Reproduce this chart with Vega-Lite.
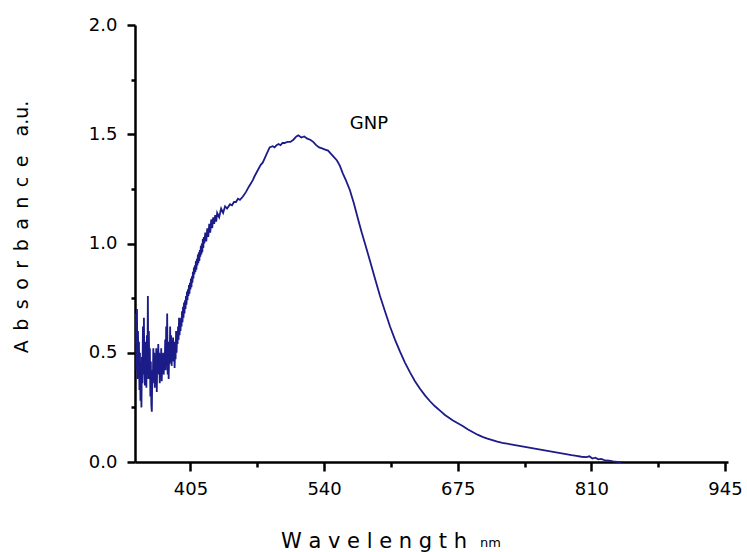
{
  "$schema": "https://vega.github.io/schema/vega-lite/v6.json",
  "width": 593,
  "height": 437,
  "autosize": "none",
  "padding": {"left": 135, "top": 25, "right": 19, "bottom": 90},
  "background": "white",
  "config": {"view": {"stroke": null}, "font": "DejaVu Sans"},
  "datasets": {
    "spectrum": [
      {"w": 350.0, "a": 0.68}, {"w": 350.5, "a": 0.42}, {"w": 351.0, "a": 0.70}, {"w": 351.5, "a": 0.38},
      {"w": 352.0, "a": 0.60}, {"w": 352.5, "a": 0.45}, {"w": 353.0, "a": 0.55}, {"w": 353.5, "a": 0.33},
      {"w": 354.0, "a": 0.50}, {"w": 354.5, "a": 0.28}, {"w": 355.0, "a": 0.40}, {"w": 355.5, "a": 0.25},
      {"w": 356.0, "a": 0.48}, {"w": 356.5, "a": 0.36}, {"w": 357.0, "a": 0.62}, {"w": 357.5, "a": 0.40},
      {"w": 358.0, "a": 0.66}, {"w": 358.5, "a": 0.42}, {"w": 359.0, "a": 0.35}, {"w": 359.5, "a": 0.55},
      {"w": 360.0, "a": 0.44}, {"w": 360.5, "a": 0.34}, {"w": 361.0, "a": 0.58}, {"w": 361.5, "a": 0.40},
      {"w": 362.0, "a": 0.76}, {"w": 362.5, "a": 0.38}, {"w": 363.0, "a": 0.60}, {"w": 363.5, "a": 0.42},
      {"w": 364.0, "a": 0.52}, {"w": 364.5, "a": 0.30}, {"w": 365.0, "a": 0.46}, {"w": 365.5, "a": 0.26},
      {"w": 366.0, "a": 0.23}, {"w": 366.5, "a": 0.42}, {"w": 367.0, "a": 0.36}, {"w": 367.5, "a": 0.52},
      {"w": 368.0, "a": 0.40}, {"w": 368.5, "a": 0.50}, {"w": 369.0, "a": 0.34}, {"w": 369.5, "a": 0.48},
      {"w": 370.0, "a": 0.38}, {"w": 370.5, "a": 0.52}, {"w": 371.0, "a": 0.32}, {"w": 371.5, "a": 0.46},
      {"w": 372.0, "a": 0.40}, {"w": 372.5, "a": 0.54}, {"w": 373.0, "a": 0.42}, {"w": 373.5, "a": 0.50},
      {"w": 374.0, "a": 0.36}, {"w": 374.5, "a": 0.48}, {"w": 375.0, "a": 0.40}, {"w": 375.5, "a": 0.52},
      {"w": 376.0, "a": 0.37}, {"w": 376.5, "a": 0.46}, {"w": 377.0, "a": 0.42}, {"w": 377.5, "a": 0.50},
      {"w": 378.0, "a": 0.40}, {"w": 378.5, "a": 0.47}, {"w": 379.0, "a": 0.44}, {"w": 379.5, "a": 0.56},
      {"w": 380.0, "a": 0.42}, {"w": 380.5, "a": 0.62}, {"w": 381.0, "a": 0.44}, {"w": 381.5, "a": 0.68},
      {"w": 382.0, "a": 0.40}, {"w": 382.5, "a": 0.55}, {"w": 383.0, "a": 0.38}, {"w": 383.5, "a": 0.50},
      {"w": 384.0, "a": 0.45}, {"w": 384.5, "a": 0.62}, {"w": 385.0, "a": 0.46}, {"w": 385.5, "a": 0.58},
      {"w": 386.0, "a": 0.44}, {"w": 386.5, "a": 0.54}, {"w": 387.0, "a": 0.48}, {"w": 387.5, "a": 0.57},
      {"w": 388.0, "a": 0.46}, {"w": 388.5, "a": 0.55}, {"w": 389.0, "a": 0.43}, {"w": 389.5, "a": 0.52},
      {"w": 390.0, "a": 0.47}, {"w": 390.5, "a": 0.60}, {"w": 391.0, "a": 0.50}, {"w": 391.5, "a": 0.58},
      {"w": 392.0, "a": 0.54}, {"w": 392.5, "a": 0.62}, {"w": 393.0, "a": 0.56}, {"w": 393.5, "a": 0.66},
      {"w": 394.0, "a": 0.58}, {"w": 394.5, "a": 0.63}, {"w": 395.0, "a": 0.60}, {"w": 395.5, "a": 0.66},
      {"w": 396.0, "a": 0.62}, {"w": 396.5, "a": 0.69}, {"w": 397.0, "a": 0.64}, {"w": 397.5, "a": 0.71},
      {"w": 398.0, "a": 0.66}, {"w": 398.5, "a": 0.73}, {"w": 399.0, "a": 0.68}, {"w": 399.5, "a": 0.74},
      {"w": 400.0, "a": 0.70}, {"w": 400.5, "a": 0.76}, {"w": 401.0, "a": 0.72}, {"w": 401.5, "a": 0.78},
      {"w": 402.0, "a": 0.74}, {"w": 402.5, "a": 0.79}, {"w": 403.0, "a": 0.76}, {"w": 403.5, "a": 0.81},
      {"w": 404.0, "a": 0.77}, {"w": 404.5, "a": 0.82}, {"w": 405.0, "a": 0.79}, {"w": 405.5, "a": 0.84},
      {"w": 406.0, "a": 0.80}, {"w": 406.5, "a": 0.85}, {"w": 407.0, "a": 0.82}, {"w": 407.5, "a": 0.87},
      {"w": 408.0, "a": 0.84}, {"w": 408.5, "a": 0.89}, {"w": 409.0, "a": 0.86}, {"w": 409.5, "a": 0.90},
      {"w": 410.0, "a": 0.87}, {"w": 410.5, "a": 0.92}, {"w": 411.0, "a": 0.88}, {"w": 411.5, "a": 0.93},
      {"w": 412.0, "a": 0.90}, {"w": 412.5, "a": 0.95}, {"w": 413.0, "a": 0.91}, {"w": 413.5, "a": 0.96},
      {"w": 414.0, "a": 0.92}, {"w": 414.5, "a": 0.97}, {"w": 415.0, "a": 0.94}, {"w": 415.5, "a": 0.99},
      {"w": 416.0, "a": 0.95}, {"w": 416.5, "a": 1.00}, {"w": 417.0, "a": 0.96}, {"w": 417.5, "a": 1.02},
      {"w": 418.0, "a": 0.98}, {"w": 418.5, "a": 1.03}, {"w": 419.0, "a": 1.00}, {"w": 420.0, "a": 1.05},
      {"w": 421.0, "a": 1.01}, {"w": 422.0, "a": 1.07}, {"w": 423.0, "a": 1.03}, {"w": 424.0, "a": 1.09},
      {"w": 425.0, "a": 1.05}, {"w": 426.0, "a": 1.11}, {"w": 427.0, "a": 1.07}, {"w": 428.0, "a": 1.12},
      {"w": 429.0, "a": 1.09}, {"w": 430.0, "a": 1.13}, {"w": 431.0, "a": 1.10}, {"w": 432.0, "a": 1.14},
      {"w": 434.0, "a": 1.12}, {"w": 436.0, "a": 1.16}, {"w": 438.0, "a": 1.14}, {"w": 440.0, "a": 1.17},
      {"w": 442.0, "a": 1.16}, {"w": 445.0, "a": 1.18}, {"w": 447.0, "a": 1.175}, {"w": 449.0, "a": 1.19},
      {"w": 451.0, "a": 1.19}, {"w": 453.0, "a": 1.205}, {"w": 455.0, "a": 1.20}, {"w": 458.0, "a": 1.215},
      {"w": 461.0, "a": 1.235}, {"w": 464.0, "a": 1.26}, {"w": 466.0, "a": 1.275}, {"w": 468.0, "a": 1.29},
      {"w": 470.0, "a": 1.31}, {"w": 473.0, "a": 1.335}, {"w": 476.0, "a": 1.36}, {"w": 478.0, "a": 1.37},
      {"w": 480.0, "a": 1.39}, {"w": 482.0, "a": 1.41}, {"w": 485.0, "a": 1.44}, {"w": 488.0, "a": 1.445},
      {"w": 490.0, "a": 1.44}, {"w": 492.0, "a": 1.45}, {"w": 494.0, "a": 1.455}, {"w": 496.0, "a": 1.45},
      {"w": 498.0, "a": 1.46}, {"w": 500.0, "a": 1.46}, {"w": 503.0, "a": 1.465}, {"w": 506.0, "a": 1.465},
      {"w": 509.0, "a": 1.475}, {"w": 512.0, "a": 1.49}, {"w": 514.0, "a": 1.495}, {"w": 517.0, "a": 1.485},
      {"w": 520.0, "a": 1.49}, {"w": 523.0, "a": 1.48}, {"w": 526.0, "a": 1.475}, {"w": 529.0, "a": 1.465},
      {"w": 532.0, "a": 1.45}, {"w": 535.0, "a": 1.44}, {"w": 538.0, "a": 1.435}, {"w": 541.0, "a": 1.43},
      {"w": 544.0, "a": 1.425}, {"w": 547.0, "a": 1.41}, {"w": 550.0, "a": 1.395}, {"w": 553.0, "a": 1.38},
      {"w": 556.0, "a": 1.355}, {"w": 559.0, "a": 1.32}, {"w": 562.0, "a": 1.29}, {"w": 566.0, "a": 1.245},
      {"w": 570.0, "a": 1.185}, {"w": 574.0, "a": 1.117}, {"w": 578.0, "a": 1.05}, {"w": 581.3, "a": 1.00},
      {"w": 586.4, "a": 0.92}, {"w": 591.4, "a": 0.84}, {"w": 596.5, "a": 0.76}, {"w": 601.5, "a": 0.69},
      {"w": 606.6, "a": 0.62}, {"w": 611.6, "a": 0.56}, {"w": 616.7, "a": 0.505}, {"w": 621.7, "a": 0.455},
      {"w": 626.8, "a": 0.41}, {"w": 631.8, "a": 0.37}, {"w": 636.9, "a": 0.335}, {"w": 641.9, "a": 0.305},
      {"w": 647.0, "a": 0.278}, {"w": 652.0, "a": 0.255}, {"w": 657.1, "a": 0.235}, {"w": 662.1, "a": 0.215},
      {"w": 670.2, "a": 0.19}, {"w": 680.0, "a": 0.165}, {"w": 685.0, "a": 0.15}, {"w": 690.0, "a": 0.137},
      {"w": 695.0, "a": 0.125}, {"w": 700.0, "a": 0.115}, {"w": 705.0, "a": 0.107}, {"w": 710.0, "a": 0.10},
      {"w": 715.0, "a": 0.093}, {"w": 720.0, "a": 0.087}, {"w": 730.0, "a": 0.08}, {"w": 740.0, "a": 0.071},
      {"w": 750.0, "a": 0.063}, {"w": 760.0, "a": 0.055}, {"w": 770.0, "a": 0.047}, {"w": 780.0, "a": 0.039},
      {"w": 790.0, "a": 0.031}, {"w": 795.0, "a": 0.028}, {"w": 800.0, "a": 0.024}, {"w": 805.0, "a": 0.022},
      {"w": 808.0, "a": 0.026}, {"w": 811.0, "a": 0.016}, {"w": 814.0, "a": 0.02}, {"w": 817.0, "a": 0.012},
      {"w": 820.0, "a": 0.014}, {"w": 824.0, "a": 0.007}, {"w": 828.0, "a": 0.006}, {"w": 832.0, "a": 0.003},
      {"w": 836.0, "a": 0.001}, {"w": 840.0, "a": 0.0}
    ],
    "gnp": [{"w": 566, "a": 1.524, "label": "GNP"}],
    "unit": [{"w": 697.5, "a": -0.389, "label": "nm"}]
  },
  "layer": [
    {
      "data": {"name": "spectrum"},
      "mark": {"type": "line", "color": "#1c1c88", "strokeWidth": 1.8},
      "encoding": {
        "x": {
          "field": "w", "type": "quantitative",
          "scale": {"domain": [349, 948], "nice": false, "zero": false},
          "axis": {
            "values": [405, 472.5, 540, 607.5, 675, 742.5, 810, 877.5, 945],
            "labelExpr": "datum.value % 135 == 0 ? format(datum.value, 'd') : ''",
            "tickSize": {"condition": {"test": "datum.value % 135 != 0", "value": 5}, "value": 9},
            "grid": false,
            "domainColor": "black", "domainWidth": 2.5,
            "tickColor": "black", "tickWidth": 2.5,
            "labelFontSize": 18, "labelColor": "black", "labelPadding": 9,
            "labelFlush": false, "labelOverlap": false, "labelBound": false,
            "title": "W a v e l e n g t h",
            "titleFontSize": 21, "titleFontWeight": "normal", "titleColor": "black",
            "titleX": 238.5, "titleY": 85, "titleAlign": "center", "titleBaseline": "alphabetic"
          }
        },
        "y": {
          "field": "a", "type": "quantitative",
          "scale": {"domain": [0, 2], "nice": false},
          "axis": {
            "values": [0, 0.25, 0.5, 0.75, 1, 1.25, 1.5, 1.75, 2],
            "labelExpr": "(datum.value * 4) % 2 == 0 ? format(datum.value, '.1f') : ''",
            "tickSize": {"condition": {"test": "(datum.value * 4) % 2 != 0", "value": 4}, "value": 8},
            "grid": false,
            "domainColor": "black", "domainWidth": 2.5,
            "tickColor": "black", "tickWidth": 2.5,
            "labelFontSize": 18, "labelColor": "black", "labelPadding": 10,
            "labelOverlap": false, "labelBound": false, "labelFlush": false,
            "title": "A\u2002b\u2002s\u2002o\u2002r\u2002b\u2002a\u2002n\u2002c\u2002e\u2002\u2002a.u.",
            "titleFontSize": 19, "titleFontWeight": "normal", "titleColor": "black",
            "titleX": -114, "titleY": 201.5, "titleAlign": "center", "titleBaseline": "middle"
          }
        }
      }
    },
    {
      "data": {"name": "gnp"},
      "mark": {"type": "text", "align": "left", "baseline": "alphabetic", "fontSize": 18, "color": "black"},
      "encoding": {
        "x": {"field": "w", "type": "quantitative"},
        "y": {"field": "a", "type": "quantitative"},
        "text": {"field": "label"}
      }
    },
    {
      "data": {"name": "unit"},
      "mark": {"type": "text", "align": "left", "baseline": "alphabetic", "fontSize": 13, "color": "black"},
      "encoding": {
        "x": {"field": "w", "type": "quantitative"},
        "y": {"field": "a", "type": "quantitative"},
        "text": {"field": "label"}
      }
    }
  ]
}
